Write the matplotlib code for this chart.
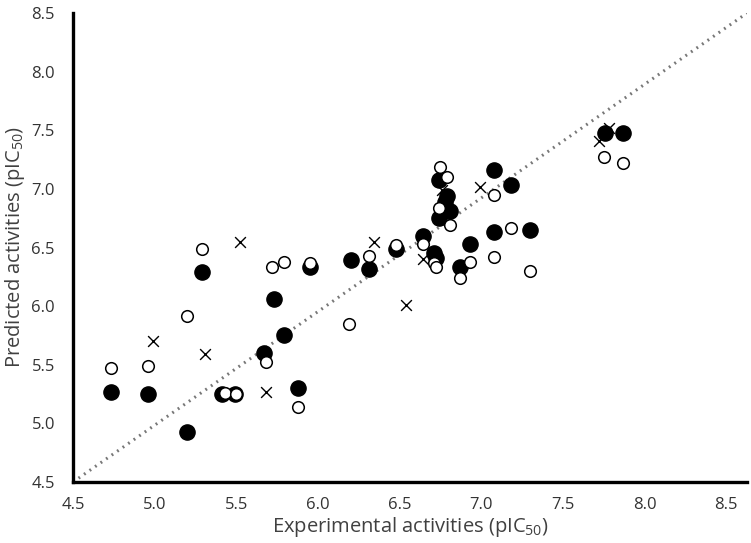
import matplotlib
matplotlib.use("Agg")
import matplotlib.pyplot as plt

plt.rcParams["font.family"] = ["Open Sans", "DejaVu Sans"]
plt.rcParams["mathtext.fontset"] = "custom"
plt.rcParams["mathtext.rm"] = "Open Sans"

# filled circles
filled_x = [4.73, 4.96, 5.20, 5.29, 5.41, 5.49, 5.67, 5.73, 5.79, 5.88, 5.95, 6.20, 6.31, 6.48, 6.64,
            6.71, 6.72, 6.74, 6.78, 6.79, 6.81, 6.74, 6.87, 6.93, 7.08, 7.18, 7.08, 7.30, 7.76, 7.87]
filled_y = [5.27, 5.25, 4.93, 6.29, 5.25, 5.25, 5.60, 6.06, 5.75, 5.30, 6.33, 6.39, 6.32, 6.49, 6.60,
            6.45, 6.41, 7.08, 6.89, 6.94, 6.81, 6.75, 6.33, 6.53, 7.16, 7.03, 6.63, 6.65, 7.48, 7.48]

# open circles
open_x = [4.73, 4.96, 5.20, 5.29, 5.43, 5.50, 5.68, 5.72, 5.79, 5.88, 5.95, 6.19, 6.31, 6.48, 6.64,
          6.71, 6.72, 6.75, 6.79, 6.74, 6.81, 6.87, 6.93, 7.08, 7.08, 7.18, 7.30, 7.75, 7.87]
open_y = [5.47, 5.49, 5.92, 6.49, 5.26, 5.25, 5.52, 6.33, 6.38, 5.14, 6.37, 5.85, 6.43, 6.52, 6.53,
          6.37, 6.33, 7.19, 7.10, 6.84, 6.69, 6.24, 6.38, 6.95, 6.42, 6.67, 6.30, 7.27, 7.22]

# crosses
cross_x = [4.99, 5.31, 5.52, 5.68, 6.34, 6.54, 6.64, 6.76, 6.99, 7.72, 7.78]
cross_y = [5.70, 5.59, 6.55, 5.27, 6.55, 6.01, 6.40, 6.99, 7.02, 7.41, 7.52]

ticks = [4.5, 5.0, 5.5, 6.0, 6.5, 7.0, 7.5, 8.0, 8.5]

fig = plt.figure(figsize=(7.51, 5.43), dpi=100)
ax = fig.add_axes([0.0972, 0.1123, 0.8975, 0.8637])

# diagonal reference line across the plot area
ax.plot([0, 1], [0, 1], transform=ax.transAxes, linestyle=(0, (0.6, 1.6)), color="#777777",
        linewidth=2.2, zorder=1)

ax.scatter(filled_x, filled_y, s=120, color="black", zorder=2)
ax.scatter(open_x, open_y, s=70, facecolor="white", edgecolor="black", linewidth=1.1, zorder=3)
ax.scatter(cross_x, cross_y, s=60, marker="x", color="black", linewidth=1.0, zorder=4)

ax.set_xlim(4.5, 8.627)
ax.set_ylim(4.5, 8.5)
ax.set_xticks(ticks)
ax.set_yticks(ticks)
ax.set_xticklabels([f"{t:.1f}" for t in ticks])
ax.set_yticklabels([f"{t:.1f}" for t in ticks])
ax.tick_params(length=0, labelsize=12, colors="#333333")
ax.tick_params(axis="x", pad=11)
ax.tick_params(axis="y", pad=13)

for side in ["top", "right"]:
    ax.spines[side].set_visible(False)
for side in ["left", "bottom"]:
    ax.spines[side].set_linewidth(2.4)
    ax.spines[side].set_color("black")

ax.set_xlabel(r"Experimental activities (pIC$_{50}$)", fontsize=14.5, color="#404040", labelpad=1)
ax.set_ylabel(r"Predicted activities (pIC$_{50}$)", fontsize=14.5, color="#404040", labelpad=3)

fig.savefig("out.png", dpi=100)
